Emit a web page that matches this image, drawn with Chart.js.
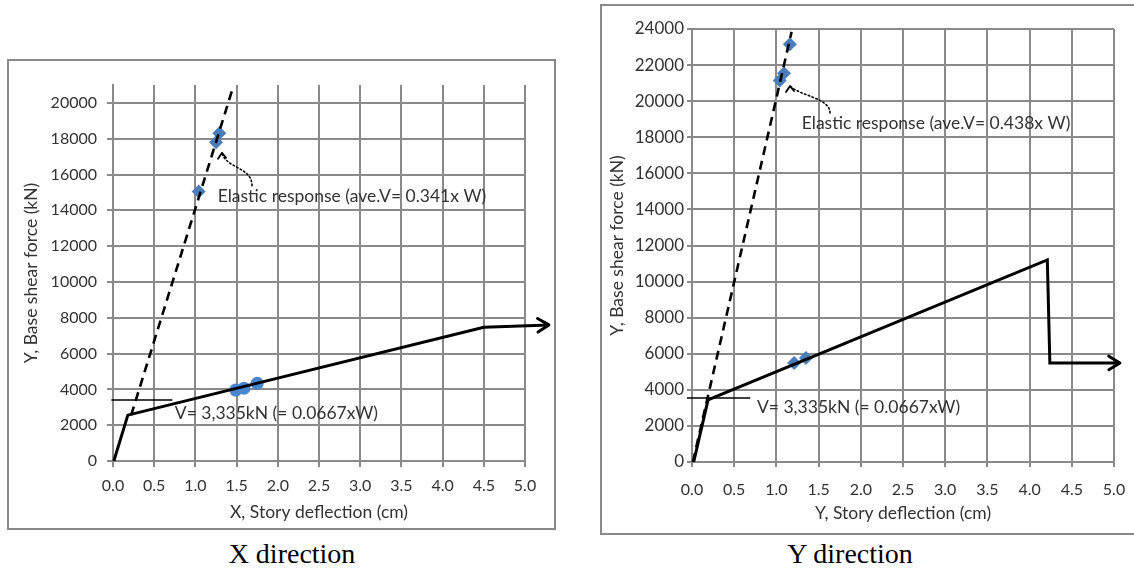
<!DOCTYPE html>
<html>
<head>
<meta charset="utf-8">
<script src="https://cdn.jsdelivr.net/npm/chart.js@4/dist/chart.umd.min.js"></script>
<style>
  body { margin: 0; background: #fff; width: 1134px; height: 572px; overflow: hidden; position: relative; }
  .box { position: absolute; border: 2px solid #8a8a8a; background: #fff; }
  .box canvas { position: absolute; left: 0; top: 0; }
  .cap { position: absolute; font-family: "Liberation Serif", "Times New Roman", serif; font-size: 28px;
         line-height: 28px; color: #000; transform: translateX(-50%); white-space: nowrap; }
</style>
</head>
<body>
<div class="box" style="left:7px;top:59px;width:545px;height:467px"><canvas id="chartX" width="545" height="467"></canvas></div>
<div class="cap" style="left:292px;top:540px">X direction</div>
<div class="box" style="left:600px;top:4px;width:560px;height:527px"><canvas id="chartY" width="560" height="527"></canvas></div>
<div class="cap" style="left:850px;top:540px">Y direction</div>

<script>
// tick values
const deflTicks = [0, 0.5, 1.0, 1.5, 2.0, 2.5, 3.0, 3.5, 4.0, 4.5, 5.0];
const xShearTicks = [0, 2000, 4000, 6000, 8000, 10000, 12000, 14000, 16000, 18000, 20000];
const yShearTicks = [0, 2000, 4000, 6000, 8000, 10000, 12000, 14000, 16000, 18000, 20000, 22000, 24000];

// X direction (deflection cm, base shear kN)
const xPushDefl  = [0.01, 0.18, 4.50, 5.29];
const xPushShear = [0, 2560, 7470, 7600];
const xElasDefl  = [0.22, 1.445];
const xElasShear = [2560, 20700];
const xDiamDefl  = [1.04, 1.25, 1.29];
const xDiamShear = [15050, 17800, 18300];
const xDotDefl   = [1.49, 1.59, 1.75];
const xDotShear  = [3960, 4070, 4340];
const xVDefl     = [-0.02, 0.72];
const xVShear    = [3400, 3400];

// Y direction
const yPushDefl  = [0.02, 0.19, 4.21, 4.24, 5.07];
const yPushShear = [0, 3440, 11200, 5490, 5490];
const yElasDefl  = [0.01, 1.18];
const yElasShear = [0, 23840];
const yDiamDefl  = [1.04, 1.09, 1.16, 1.21, 1.35];
const yDiamShear = [21150, 21550, 23150, 5490, 5770];
const yVDefl     = [-0.06, 0.69];
const yVShear    = [3550, 3550];

const FONT = 'Lato';
const GRID = '#8a8a8a';
const TXT = '#333';
const NOTE = 17.5;

function pts(xs, ys) { return xs.map((x, i) => ({ x: x, y: ys[i] })); }

// arrow heads, dotted pointer and text notes
const annot = {
  id: 'annot',
  afterDatasetsDraw(chart, args, o) {
    const ctx = chart.ctx, sx = chart.scales.x, sy = chart.scales.y;
    const px = (x, y) => [sx.getPixelForValue(x), sy.getPixelForValue(y)];
    ctx.save();
    ctx.strokeStyle = '#000';
    ctx.lineCap = 'round';
    ctx.lineJoin = 'round';

    // open arrow head at the end of the pushover curve
    const d = chart.data.datasets.find(ds => ds.label === 'push').data;
    const n = d.length;
    const [x1, y1] = px(d[n - 2].x, d[n - 2].y);
    const [x2, y2] = px(d[n - 1].x, d[n - 1].y);
    const a = Math.atan2(y2 - y1, x2 - x1);
    ctx.lineWidth = 3;
    ctx.beginPath();
    ctx.moveTo(x2 - 13 * Math.cos(a - 0.55), y2 - 13 * Math.sin(a - 0.55));
    ctx.lineTo(x2, y2);
    ctx.lineTo(x2 - 13 * Math.cos(a + 0.55), y2 - 13 * Math.sin(a + 0.55));
    ctx.stroke();

    // dotted curved pointer to the elastic points
    const c = o.curve.map(p => px(p[0], p[1]));
    ctx.lineWidth = 1.6;
    ctx.setLineDash([1.5, 2.5]);
    ctx.beginPath();
    ctx.moveTo(c[0][0], c[0][1]);
    ctx.bezierCurveTo(c[1][0], c[1][1], c[2][0], c[2][1], c[3][0], c[3][1]);
    ctx.stroke();
    ctx.setLineDash([]);
    const t = c[3];
    ctx.lineWidth = 1.8;
    ctx.beginPath();
    ctx.moveTo(t[0] - 4, t[1] + 6);
    ctx.lineTo(t[0], t[1]);
    ctx.lineTo(t[0] + 4, t[1] + 5);
    ctx.stroke();

    // notes
    ctx.font = NOTE + 'px ' + FONT;
    ctx.fillStyle = TXT;
    ctx.textAlign = 'left';
    ctx.textBaseline = 'middle';
    o.texts.forEach(tx => {
      const [x, y] = px(tx.x, tx.y);
      ctx.fillText(tx.text, x, y);
    });
    ctx.restore();
  }
};

function makeChart(id, c) {
  return new Chart(document.getElementById(id), {
    type: 'scatter',
    data: {
      datasets: [
        { label: 'push', data: c.push, showLine: true, borderColor: '#000', borderWidth: 3,
          pointRadius: 0, clip: false, order: 1 },
        { label: 'elastic', data: c.elastic, showLine: true, borderColor: '#000', borderWidth: 2.6,
          borderDash: [9, 6], pointRadius: 0, clip: false, order: 1 },
        { label: 'V', data: c.vline, showLine: true, borderColor: '#000', borderWidth: 1.5,
          pointRadius: 0, clip: false, order: 1 },
        { label: 'diamonds', data: c.diamonds, pointStyle: 'rectRot', pointRadius: 7,
          backgroundColor: '#4a7ebb', borderWidth: 0, order: 2 },
        { label: 'dots', data: c.dots, pointStyle: 'circle', pointRadius: 6.5,
          backgroundColor: '#4a86cf', borderWidth: 0, order: 2 }
      ]
    },
    options: {
      animation: false,
      responsive: false,
      events: [],
      layout: { padding: { left: 0, top: c.top, right: c.right, bottom: 0 } },
      plugins: {
        legend: { display: false },
        tooltip: { enabled: false },
        annot: { curve: c.curve, texts: c.texts }
      },
      scales: {
        x: {
          type: 'linear', min: 0, max: 5,
          afterFit: s => { s.height = c.xh; },
          afterBuildTicks: s => { s.ticks = deflTicks.map(v => ({ value: v })); },
          grid: { color: GRID, lineWidth: 2, tickLength: c.xtl },
          border: { color: GRID, width: 2 },
          ticks: { font: { family: FONT, size: 16 }, color: TXT, padding: c.xtp, maxRotation: 0,
                   autoSkip: false, callback: v => Number(v).toFixed(1) },
          title: { display: true, text: c.xTitle, color: TXT, font: { family: FONT, size: NOTE },
                   padding: { top: 0, bottom: c.xtb } }
        },
        y: {
          type: 'linear', min: 0, max: c.ymax,
          afterFit: s => { s.width = c.yw; },
          afterBuildTicks: s => { s.ticks = c.yTicks.map(v => ({ value: v })); },
          grid: { color: GRID, lineWidth: 2, tickLength: c.ytl },
          border: { color: GRID, width: 2 },
          ticks: { font: { family: FONT, size: c.yfs }, color: TXT, padding: c.ytp, autoSkip: false,
                   callback: v => String(v) },
          title: { display: true, text: 'Y, Base shear force (kN)', color: TXT,
                   font: { family: FONT, size: NOTE }, padding: { top: c.ytt, bottom: 0 } }
        }
      }
    },
    plugins: [annot]
  });
}

makeChart('chartX', {
  push: pts(xPushDefl, xPushShear),
  elastic: pts(xElasDefl, xElasShear),
  vline: pts(xVDefl, xVShear),
  diamonds: pts(xDiamDefl, xDiamShear),
  dots: pts(xDotDefl, xDotShear),
  ymax: 21000, yTicks: xShearTicks,
  top: 24, right: 29, xh: 67, yw: 104,
  xtl: 6, xtp: 9, xtb: 5.5,
  ytl: 6, ytp: 10, ytt: 11.5, yfs: 16,
  xTitle: 'X, Story deflection (cm)',
  curve: [[1.687, 15376], [1.687, 16435], [1.371, 16323], [1.323, 17214]],
  texts: [
    { x: 0.75, y: 2674, text: 'V= 3,335kN (= 0.0667xW)' },
    { x: 1.27, y: 14760, text: 'Elastic response (ave.V= 0.341x W)' }
  ]
});

makeChart('chartY', {
  push: pts(yPushDefl, yPushShear),
  elastic: pts(yElasDefl, yElasShear),
  vline: pts(yVDefl, yVShear),
  diamonds: pts(yDiamDefl, yDiamShear),
  dots: [],
  ymax: 24000, yTicks: yShearTicks,
  top: 23, right: 48, xh: 71, yw: 90,
  xtl: 5, xtp: 13.4, xtb: 9.5,
  ytl: 5, ytp: 3, ytt: 5, yfs: 17,
  xTitle: 'Y, Story deflection (cm)',
  curve: [[1.635, 19346], [1.635, 20177], [1.28, 20288], [1.161, 20842]],
  texts: [
    { x: 0.77, y: 3049, text: 'V= 3,335kN (= 0.0667xW)' },
    { x: 1.30, y: 18792, text: 'Elastic response (ave.V= 0.438x W)' }
  ]
});
</script>
</body>
</html>
